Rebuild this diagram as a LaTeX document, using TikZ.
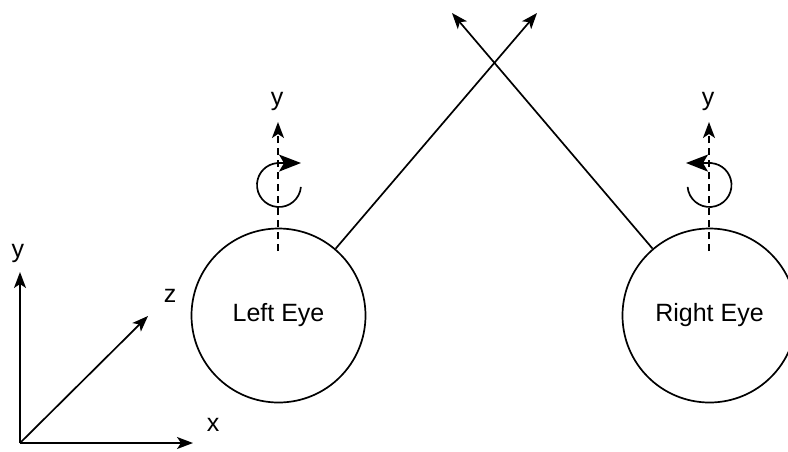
\documentclass[tikz,border=0pt]{standalone}
\usepackage{fontspec}
\setmainfont{Liberation Sans}
\usetikzlibrary{arrows.meta}

\begin{document}
\begin{tikzpicture}[x=1pt, y=-1pt,
    stroke/.style={line width=1.7pt, black},
    arr/.style={stroke, -{Stealth[length=16pt, width=12pt, inset=4pt]}},
    dasharr/.style={arr, dash pattern=on 7pt off 5pt},
    rotarr/.style={stroke, -{Stealth[length=22pt, width=17pt, inset=5pt]}},
    eye/.style={circle, draw, line width=1.7pt, minimum size=174pt, inner sep=0pt,
                font=\fontsize{25}{30}\selectfont},
    lbl/.style={inner sep=0pt, font=\fontsize{25}{30}\selectfont}]

  \useasboundingbox (0,0) rectangle (788,451);

  % the two eyes
  \node[eye] (L) at (278.5,315.5) {Left Eye};
  \node[eye] (R) at (709.5,315.5) {Right Eye};

  % gaze directions, crossing above the eyes
  \coordinate (lgaze) at (537,13);
  \coordinate (rgaze) at (452,13);
  \draw[arr] (L) -- (lgaze);
  \draw[arr] (R) -- (rgaze);

  % local y axes of the eyes
  \coordinate (lyb) at (278,251);
  \coordinate (lyt) at (278,122);
  \coordinate (ryb) at (709,251);
  \coordinate (ryt) at (709,122);
  \draw[dasharr] (lyb) -- (lyt);
  \draw[dasharr] (ryb) -- (ryt);
  \node[lbl] (ly) at (277,101) {y};
  \node[lbl] (ry) at (708,101) {y};

  % rotation about the y axes
  \coordinate (lrc) at (279,185);
  \coordinate (rrc) at (709.5,185);
  \draw[rotarr] ([shift={(5:22)}]lrc) arc[start angle=5, end angle=265, radius=22] -- (301,163);
  \draw[rotarr] ([shift={(175:22)}]rrc) arc[start angle=175, end angle=-85, radius=22] -- (686,163);

  % world coordinate frame
  \coordinate (O) at (20,443);
  \coordinate (X) at (193,443);
  \coordinate (Y) at (20,272);
  \coordinate (Z) at (148,316);
  \draw[arr] (O) -- (X);
  \draw[arr] (O) -- (Y);
  \draw[arr] (O) -- (Z);
  \node[lbl] (xl) at (213,425) {x};
  \node[lbl] (yl) at (18,253) {y};
  \node[lbl] (zl) at (170,296) {z};
\end{tikzpicture}
\end{document}
